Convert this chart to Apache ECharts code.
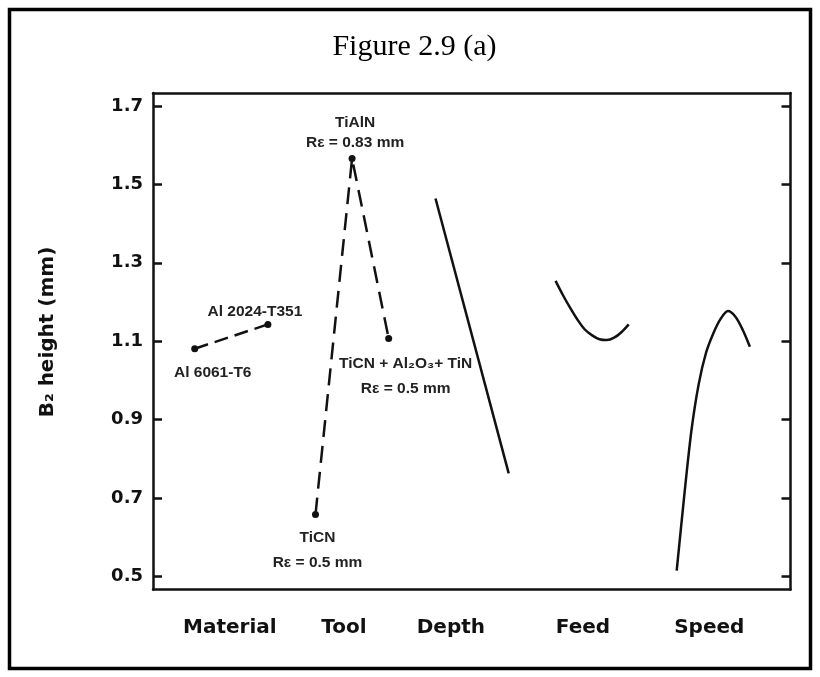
<!DOCTYPE html>
<html><head><meta charset="utf-8">
<script src="https://cdn.jsdelivr.net/npm/echarts@6/dist/echarts.min.js"></script>
<style>html,body{margin:0;padding:0;background:#fff}#c{width:820px;height:677px}</style>
</head><body><div id="c"></div>
<script>
// ---- data ----
const titleText = 'Figure 2.9 (a)';
const yAxisName = 'B₂ height (mm)';
const factors = ['Material', 'Tool', 'Depth', 'Feed', 'Speed'];
const factorCenters = [2.14, 5.44, 8.72, 12.0, 15.31];   // x position of each factor block (level units)
const factorLabelPos = [2.1, 5.22, 8.14, 11.75, 15.2];
const yTicks = [0.5, 0.7, 0.9, 1.1, 1.3, 1.5, 1.7];

const materialLevels = [-1, 1];
const materialValues = [1.081, 1.143];
const materialNames = ['Al 6061-T6', 'Al 2024-T351'];

const toolLevels = [-1, 0, 1];
const toolValues = [0.658, 1.566, 1.107];
const toolNames = ['TiCN\nRε = 0.5 mm', 'TiAlN\nRε = 0.83 mm', 'TiCN + Al₂O₃+ TiN\nRε = 0.5 mm'];

const depthLevels = [-1, 1];
const depthValues = [1.464, 0.763];

const feedLevels = [-1, -0.8, -0.6, -0.4, -0.2, 0, 0.2, 0.4, 0.6, 0.8, 1];
const feedValues = [1.254, 1.218, 1.185, 1.155, 1.13, 1.115, 1.105, 1.103, 1.109, 1.123, 1.143];

const speedLevels = [-1, -0.8, -0.6, -0.4, -0.2, 0, 0.2, 0.4, 0.6, 0.8, 1];
const speedValues = [0.515, 0.70, 0.87, 0.99, 1.07, 1.12, 1.157, 1.177, 1.163, 1.13, 1.086];

// ---- chart ----
const ink = '#111';
const annFont = {fontFamily: 'Liberation Sans, Arial, sans-serif', fontSize: 15.5, fontWeight: 'bold', color: '#222'};
function pts(fi, levels, values) { return levels.map((l, i) => [factorCenters[fi] + l, values[i]]); }

const materialLabelStyle = [
  {offset: [18, 24]}, {offset: [-13, -13]}
];
const toolLabelStyle = [
  {offset: [2, 36], lineHeight: 25}, {offset: [3, -26], lineHeight: 20}, {offset: [17, 38], lineHeight: 25}
];

function labeled(fi, levels, values, names, styles) {
  return pts(fi, levels, values).map((p, i) => ({
    value: p,
    label: Object.assign({show: true, position: 'inside', formatter: names[i], align: 'center', verticalAlign: 'middle'}, annFont, styles[i])
  }));
}

const chart = echarts.init(document.getElementById('c'));
chart.setOption({
  backgroundColor: '#fff',
  animation: false,
  graphic: [
    {type: 'rect', shape: {x: 9.5, y: 9.5, width: 801, height: 659},
      style: {fill: 'none', stroke: '#000', lineWidth: 3.5}, silent: true},
    {type: 'text', x: 414.5, y: 47, silent: true,
      style: {text: titleText, align: 'center', verticalAlign: 'middle',
        font: 'normal 30px "Liberation Serif", "Times New Roman", serif', fill: '#000'}},
    {type: 'text', x: 48, y: 332, rotation: Math.PI / 2, silent: true,
      style: {text: yAxisName, align: 'center', verticalAlign: 'middle',
        font: 'bold 20px "DejaVu Sans", sans-serif', fill: '#111'}}
  ],
  grid: {left: 153, right: 29.5, top: 93, bottom: 87.5},
  xAxis: [{
    type: 'value', min: 0, max: 17.42, position: 'bottom',
    axisLine: {show: true, lineStyle: {color: ink, width: 2.5}},
    axisTick: {show: false}, splitLine: {show: false},
    axisLabel: {customValues: factorLabelPos, margin: 28,
      formatter: v => factors[factorLabelPos.indexOf(v)] || '',
      fontFamily: 'DejaVu Sans, sans-serif', fontWeight: 'bold', fontSize: 20, color: '#111'}
  }, {
    type: 'value', min: 0, max: 17.42, position: 'top',
    axisLine: {show: true, onZero: false, lineStyle: {color: ink, width: 2.5}},
    axisTick: {show: false}, axisLabel: {show: false}, splitLine: {show: false}
  }],
  yAxis: [{
    type: 'value', min: 0.467, max: 1.733, position: 'left',
    axisLine: {show: true, lineStyle: {color: ink, width: 2.5}},
    axisTick: {show: true, inside: true, length: 9, customValues: yTicks, lineStyle: {color: ink, width: 2.5}},
    axisLabel: {customValues: yTicks, formatter: v => v.toFixed(1), margin: 10,
      fontFamily: 'DejaVu Sans, sans-serif', fontWeight: 'bold', fontSize: 18, color: '#111'},
    splitLine: {show: false}
  }, {
    type: 'value', min: 0.467, max: 1.733, position: 'right',
    axisLine: {show: true, onZero: false, lineStyle: {color: ink, width: 2.5}},
    axisTick: {show: true, inside: true, length: 9, customValues: yTicks, lineStyle: {color: ink, width: 2.5}},
    axisLabel: {show: false}, splitLine: {show: false}
  }],
  series: [
    {type: 'line', name: 'Material', data: labeled(0, materialLevels, materialValues, materialNames, materialLabelStyle),
      symbol: 'circle', symbolSize: 7, itemStyle: {color: ink},
      lineStyle: {color: ink, width: 2.5, type: [14, 7]}},
    {type: 'line', name: 'Tool', data: labeled(1, toolLevels, toolValues, toolNames, toolLabelStyle),
      symbol: 'circle', symbolSize: 7, itemStyle: {color: ink},
      lineStyle: {color: ink, width: 2.5, type: [17, 9]}},
    {type: 'line', name: 'Depth', data: pts(2, depthLevels, depthValues), showSymbol: false,
      lineStyle: {color: ink, width: 2.5}},
    {type: 'line', name: 'Feed', data: pts(3, feedLevels, feedValues), showSymbol: false, smooth: 0.3,
      lineStyle: {color: ink, width: 2.5}},
    {type: 'line', name: 'Speed', data: pts(4, speedLevels, speedValues), showSymbol: false, smooth: 0.3,
      lineStyle: {color: ink, width: 2.5}}
  ]
});
</script></body></html>
